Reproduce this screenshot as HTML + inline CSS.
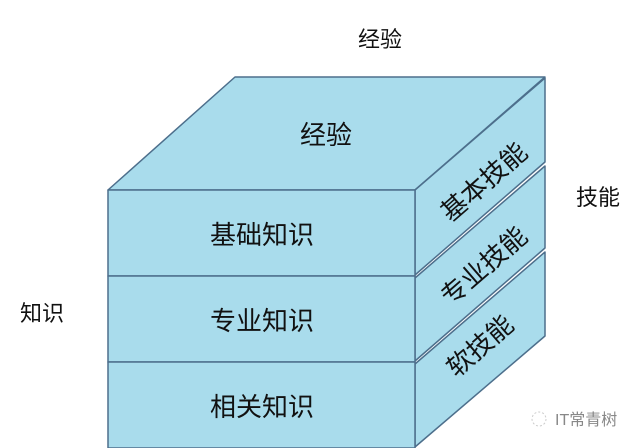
<!DOCTYPE html>
<html><head><meta charset="utf-8"><style>
html,body{margin:0;padding:0;background:#fff;width:640px;height:448px;overflow:hidden}
svg{display:block}
text{font-family:"Liberation Sans","Noto Sans CJK SC",sans-serif;fill:#111}
</style></head><body>
<svg width="640" height="448" viewBox="0 0 640 448" xmlns="http://www.w3.org/2000/svg">
<g stroke="#4d6f8c" stroke-width="1.5" fill="#a9dcec" stroke-linejoin="round">
<polygon points="108,190 235,77 545,77 415,190"/>
<polygon points="415,190 545,78 545,162 415,275"/>
<polygon points="415,278 545,166 545,248 415,361"/>
<polygon points="415,364 545,252 545,336 415,447"/>
<rect x="108" y="190" width="307" height="86"/>
<rect x="108" y="276" width="307" height="86"/>
<rect x="108" y="362" width="307" height="86"/>
</g>
<g font-size="26" text-anchor="middle">
<text x="326" y="144">经验</text>
<text x="262" y="244">基础知识</text>
<text x="262" y="330">专业知识</text>
<text x="262" y="416">相关知识</text>
<text x="484" y="191" transform="rotate(-41 484 182)">基本技能</text>
<text x="484" y="275" transform="rotate(-41 484 266)">专业技能</text>
<text x="480" y="355" transform="rotate(-41 480 346)">软技能</text>
<text x="380" y="47" font-size="22">经验</text>
<text x="598" y="205" font-size="22">技能</text>
<text x="42" y="321" font-size="22">知识</text>
</g>
<text x="555" y="425" font-size="16" style="fill:#888">IT常青树</text>
<circle cx="539" cy="419" r="7" fill="none" stroke="#ccc" stroke-dasharray="2 2"/>
</svg>
</body></html>
